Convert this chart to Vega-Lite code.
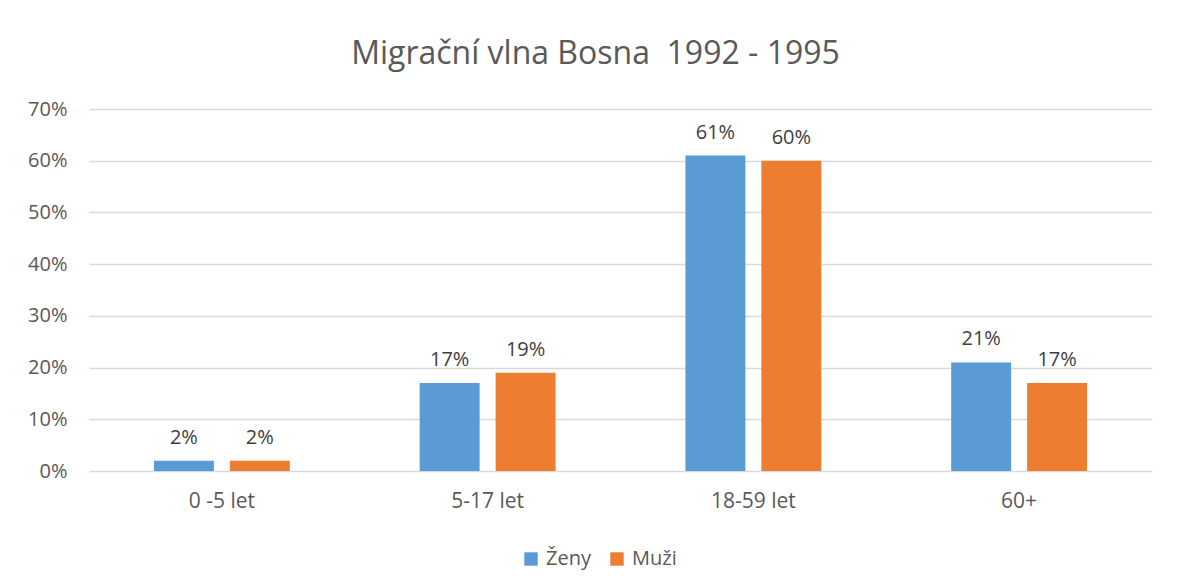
{
  "$schema": "https://vega.github.io/schema/vega-lite/v6.json",
  "width": 1063,
  "height": 362,
  "autosize": {"type": "none"},
  "padding": {"left": 89, "top": 109, "right": 29, "bottom": 117},
  "background": "white",
  "config": {
    "view": {"stroke": null},
    "font": "Open Sans",
    "axis": {"labelFont": "Open Sans", "labelColor": "#595959", "labelFontSize": 20}
  },
  "title": {
    "text": "Migrační vlna Bosna\u00a0 1992 - 1995",
    "font": "Open Sans",
    "fontSize": 32,
    "fontWeight": "normal",
    "color": "#595959",
    "anchor": "middle",
    "frame": "group",
    "dx": -25,
    "offset": 28
  },
  "data": {
    "values": [
      {"vek": "0 -5 let", "pohlavi": "Ženy", "podil": 0.02},
      {"vek": "0 -5 let", "pohlavi": "Muži", "podil": 0.02},
      {"vek": "5-17 let", "pohlavi": "Ženy", "podil": 0.17},
      {"vek": "5-17 let", "pohlavi": "Muži", "podil": 0.19},
      {"vek": "18-59 let", "pohlavi": "Ženy", "podil": 0.61},
      {"vek": "18-59 let", "pohlavi": "Muži", "podil": 0.60},
      {"vek": "60+", "pohlavi": "Ženy", "podil": 0.21},
      {"vek": "60+", "pohlavi": "Muži", "podil": 0.17}
    ]
  },
  "encoding": {
    "x": {
      "field": "vek", "type": "nominal", "sort": null,
      "scale": {"paddingInner": 0, "paddingOuter": 0},
      "axis": {"title": null, "labelAngle": 0, "ticks": false, "domain": false, "labelPadding": 19, "labelFontSize": 21}
    },
    "xOffset": {
      "field": "pohlavi", "type": "nominal", "sort": ["Ženy", "Muži"],
      "scale": {"paddingInner": 0.2105, "paddingOuter": 0.855}
    },
    "y": {
      "field": "podil", "type": "quantitative",
      "scale": {"domain": [0, 0.7], "nice": false},
      "axis": {"title": null, "format": ".0%", "values": [0, 0.1, 0.2, 0.3, 0.4, 0.5, 0.6, 0.7], "labelOverlap": false, "ticks": false, "domain": false, "labelPadding": 22, "gridColor": "#d9d9d9", "gridWidth": 1.3}
    }
  },
  "layer": [
    {
      "mark": {"type": "bar"},
      "encoding": {
        "color": {
          "field": "pohlavi", "type": "nominal", "sort": ["Ženy", "Muži"],
          "scale": {"domain": ["Ženy", "Muži"], "range": ["#5B9BD5", "#ED7D31"]},
          "legend": {
            "title": null, "orient": "none", "direction": "horizontal",
            "legendX": 432, "legendY": 440,
            "symbolType": "square", "symbolSize": 180, "symbolStrokeWidth": 0,
            "labelFontSize": 20, "labelColor": "#595959", "labelFont": "Open Sans",
            "columnPadding": 16, "labelOffset": 5
          }
        }
      }
    },
    {
      "mark": {"type": "text", "dy": -17, "baseline": "alphabetic", "fontSize": 20, "color": "#404040", "font": "Open Sans"},
      "encoding": {
        "text": {"field": "podil", "type": "quantitative", "format": ".0%"}
      }
    }
  ]
}
